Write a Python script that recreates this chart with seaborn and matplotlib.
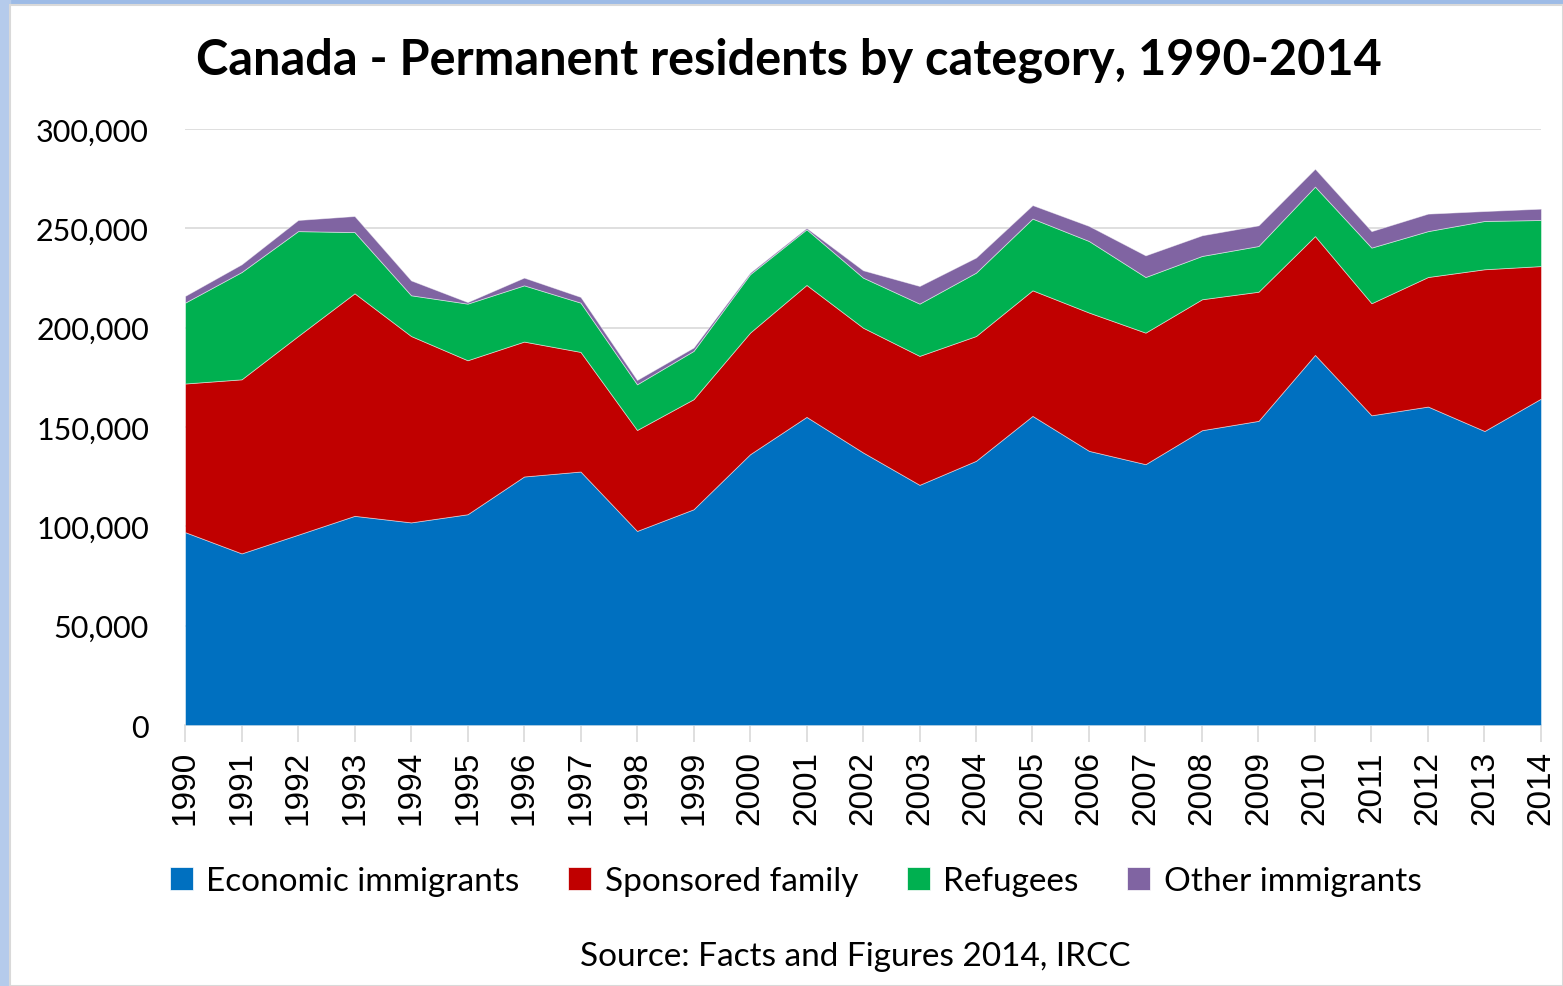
import pandas as pd
import seaborn as sns
import matplotlib.pyplot as plt
from matplotlib.patches import Patch, Rectangle
from matplotlib.ticker import FuncFormatter

# values (persons)
years = list(range(1990, 2015))
economic = [97100, 86400, 95800, 105300, 102000, 106100, 125100, 127600, 97700, 108600,
            136300, 155100, 137200, 120900, 133000, 155600, 138000, 131300, 148400, 153100,
            186300, 155900, 160300, 148000, 164300]
family = [74800, 87600, 100000, 112000, 93800, 77500, 67900, 60200, 50800, 55400,
          61200, 66400, 62800, 64900, 62800, 63200, 69600, 66200, 65900, 65000,
          59800, 56400, 65200, 81400, 66700]
refugees = [40700, 54000, 52800, 30800, 20500, 28500, 28300, 24800, 23000, 24300,
            29400, 28000, 25200, 26300, 31900, 36100, 36000, 28000, 21800, 23000,
            24900, 28000, 23100, 24300, 23200]
other = [3400, 3900, 5600, 8100, 7500, 800, 3900, 2900, 2200, 1700,
         800, 700, 3700, 8900, 7600, 6800, 7600, 10900, 10400, 10400,
         9000, 8300, 8800, 5000, 5700]
labels = ["Economic immigrants", "Sponsored family", "Refugees", "Other immigrants"]
colors = ["#0070C0", "#C00000", "#00B050", "#8064A2"]

df = pd.DataFrame({"year": years, labels[0]: economic, labels[1]: family,
                   labels[2]: refugees, labels[3]: other})

sns.set_style("white")
plt.rcParams['font.family'] = ['Lato', 'DejaVu Sans']
plt.rcParams['text.color'] = 'black'
plt.rcParams['xtick.color'] = '#d9d9d9'
plt.rcParams['xtick.labelcolor'] = 'black'
plt.rcParams['ytick.labelcolor'] = 'black'

fig = plt.figure(figsize=(15.63, 9.87), dpi=100, facecolor="white")
# slide background strips (top / left) and chart frame
fig.patches.append(Rectangle((0, 0.994), 1, 0.006, transform=fig.transFigure,
                             color="#9dbbe6", zorder=-5))
fig.patches.append(Rectangle((0, 0), 0.0065, 1, transform=fig.transFigure,
                             color="#b5cbeb", zorder=-5))
fig.patches.append(Rectangle((0.0065, 0), 0.9935, 0.994, transform=fig.transFigure,
                             facecolor="white", edgecolor="#d9d9d9", lw=1.5, zorder=-4))

ax = fig.add_axes([0.1184, 0.2644, 0.8675, 0.6039])
ax.patch.set_alpha(0)
ax.stackplot(df["year"], [df[l] for l in labels], colors=colors, labels=labels,
             edgecolor=(1, 1, 1, 0.5), linewidth=0.6, zorder=3)

ax.set_xlim(1990, 2014)
ax.set_ylim(0, 300000)
ax.set_yticks(range(0, 300001, 50000))
ax.yaxis.set_major_formatter(FuncFormatter(lambda v, p: f"{int(v):,}"))
ax.set_xticks(years)
ax.set_xticklabels([str(y) for y in years], rotation=90, fontsize=24,
                   family=['Liberation Sans', 'DejaVu Sans'])
ax.tick_params(axis="y", labelsize=22, length=0, pad=26)
ax.tick_params(axis="x", length=12, width=1.2, pad=6, bottom=True)
ax.grid(axis="y", color="#d9d9d9", lw=1.2, zorder=0)
for s in ["top", "right", "left"]:
    ax.spines[s].set_visible(False)
ax.spines["bottom"].set_color("#d9d9d9")
ax.spines["bottom"].set_linewidth(1.2)
ax.set_xlabel("")
ax.set_ylabel("")

fig.text(0.505, 0.939, "Canada - Permanent residents by category, 1990-2014",
         ha="center", va="center", fontsize=35, fontweight="bold")

handles = [Patch(facecolor=c, edgecolor="white", lw=0.5) for c in colors]
fig.legend(handles, labels, loc="center", bbox_to_anchor=(0.509, 0.106), ncol=4,
           frameon=False, fontsize=24, handlelength=0.7, handleheight=0.7,
           handletextpad=0.4, columnspacing=1.45)

fig.text(0.547, 0.03, "Source: Facts and Figures 2014, IRCC", ha="center",
         va="center", fontsize=24)

plt.savefig("out.png", dpi=100, facecolor="white")
